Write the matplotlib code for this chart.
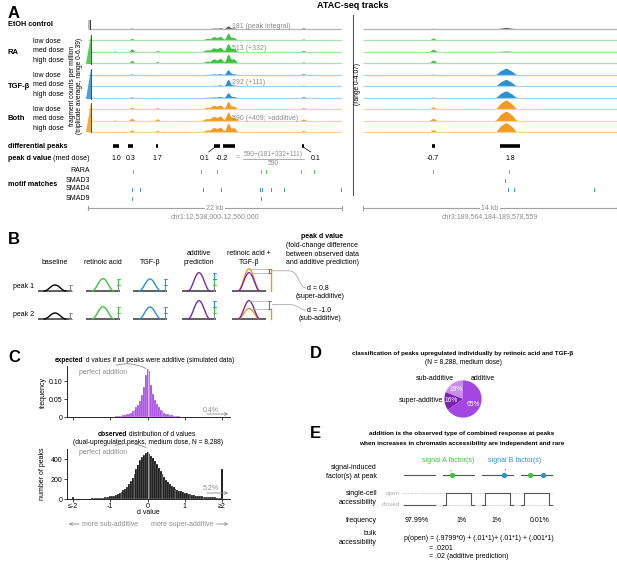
import numpy as np
import matplotlib
matplotlib.use('Agg')
import matplotlib.pyplot as plt
from matplotlib.patches import Polygon, Rectangle, PathPatch
from matplotlib.path import Path

plt.rcParams['font.family'] = ['Liberation Sans', 'DejaVu Sans']
plt.rcParams['axes.linewidth'] = 0.6

# ---------------- data ----------------
dose_labels = ['low dose', 'med dose', 'high dose']
group_labels = ['EtOH control', 'RA', 'TGF-β', 'Both']

# panel A, left locus (kb from chr1:12,538,000), CPM heights
left_peak_kb = [2.3, 3.8, 6.0, 10.3, 10.9, 11.45, 12.13, 12.6, 18.65]
left_peak_sd = [0.12, 0.14, 0.12, 0.25, 0.2, 0.2, 0.15, 0.2, 0.15]
etoh_left = [0.3, 0.6, 0.3, 0.3, 0.6, 0.8, 2.0, 0.7, 0.7]
ra_left = [[0.5, 1.4, 0.7, 1.3, 2.4, 2.6, 4.6, 2.0, 1.0],
           [0.6, 2.0, 1.0, 1.4, 2.6, 3.0, 5.3, 2.4, 1.0],
           [0.6, 2.0, 1.3, 1.5, 2.8, 3.2, 5.9, 3.0, 1.0]]
tgf_left = [[0.3, 0.6, 0.3, 0.4, 0.6, 0.8, 3.3, 0.8, 0.8],
            [0.3, 0.6, 0.3, 0.4, 0.7, 1.0, 4.6, 1.0, 0.8],
            [0.3, 0.6, 0.3, 0.4, 0.6, 0.9, 3.3, 0.9, 0.8]]
both_left = [[0.4, 1.4, 1.2, 1.3, 2.6, 2.8, 5.0, 2.2, 1.2],
             [0.5, 1.6, 1.3, 1.4, 2.8, 3.0, 5.5, 2.5, 1.2],
             [0.5, 1.6, 1.3, 1.5, 3.0, 3.3, 5.7, 3.0, 1.2]]
left_range = 6.39

# panel A, right locus (kb from chr3:189,564,184)
right_peak_kb = [3.97, 7.8, 8.1, 8.4]
right_peak_sd = [0.12, 0.15, 0.15, 0.15]
etoh_right = [0.3, 0.3, 0.6, 0.3]
ra_right = [[1.0, 0.2, 0.4, 0.2], [1.1, 0.2, 0.4, 0.2], [1.4, 0.2, 0.4, 0.2]]
tgf_right = [[0.3, 1.5, 2.4, 1.3], [0.3, 1.6, 2.5, 1.4], [0.3, 1.6, 2.5, 1.4]]
both_right = [[1.0, 2.2, 3.3, 2.0], [1.0, 2.3, 3.4, 2.1], [1.1, 2.3, 3.4, 2.1]]
right_range = 4.07

diff_left = [(2.17, 2.69), (3.46, 3.90), (5.90, 6.08), (10.91, 11.43), (11.69, 12.73), (18.55, 18.72)]
diff_right = [(3.88, 4.06), (7.77, 8.88)]
d_left = ['1.0', '0.3', '1.7', '0.1', '-0.2', '0.1']
d_right = ['-0.7', '1.8']

motif_names = ['RARA', 'SMAD3', 'SMAD4', 'SMAD9']
motif_left = [[3.90, 9.79, 11.17, 14.98, 15.42, 18.45, 19.58], [],
              [3.81, 4.50, 9.96, 11.52, 14.92, 15.06, 15.85, 16.98, 21.9], [3.81, 14.98]]
motif_right = [[3.97, 8.27], [8.05], [8.21, 8.54, 13.07], []]
integral_labels = ['181 (peak integral)', '513 (+332)', '292 (+111)', '590 (+409; ≈additive)']

# panel B (schematic signal heights)
b_columns = ['baseline', 'retinoic acid', 'TGF-β', 'additive\nprediction', 'retinoic acid +\nTGF-β']
b_rows = ['peak 1', 'peak 2']
b_base = [1.0, 1.0]
b_ra = [2.05, 2.05]
b_tgf = [2.0, 2.0]
b_add = [3.05, 3.05]
b_comb = [3.7, 1.75]
b_d = ['d = 0.8', 'd = -1.0']
b_type = ['(super-additive)', '(sub-additive)']

# panel C
sim_freq = [0.0008, 0.001, 0.0013, 0.0017, 0.0022, 0.0028, 0.0035, 0.0045, 0.006, 0.0075,
            0.0095, 0.012, 0.016, 0.021, 0.027, 0.035, 0.046, 0.062, 0.085, 0.118,
            0.135,
            0.128, 0.09, 0.064, 0.047, 0.036, 0.028, 0.021, 0.016, 0.012, 0.0095,
            0.0075, 0.006, 0.0045, 0.0035, 0.0028, 0.0022, 0.0017, 0.0013, 0.001, 0.0008]
obs_counts = [25,
              2, 2, 3, 3, 3, 4, 4, 5, 5, 6,
              7, 8, 9, 10, 12, 14, 16, 19, 22,
              26, 30, 35, 42, 50, 60, 72, 88, 105, 125,
              150, 180, 215, 255, 300, 345, 390, 420, 445, 465,
              470,
              455, 435, 410, 385, 350, 315, 280, 250, 220, 195,
              170, 150, 132, 118, 105, 94, 84, 76, 68, 62,
              56, 51, 46, 42, 38, 35, 32, 29, 27, 25,
              23, 21, 20, 18, 17, 16, 15, 14, 13,
              300]
c_xticklabels = ['≤-2', '-1', '0', '1', '≥2']

# panel D
pie_labels = ['sub-additive', 'super-additive', 'additive']
pie_values = [19, 16, 65]
pie_colors = ['#c98cf0', '#7a22b0', '#a446e2']

# panel E
e_signal_A = [0, 1, 0, 1]
e_signal_B = [0, 0, 1, 1]
e_open = [0, 1, 1, 1]
e_freq = ['97.99%', '1%', '1%', '0.01%']

# ---------------- figure ----------------
W, H = 617, 562
fig = plt.figure(figsize=(W / 100, H / 100), dpi=100)


def rect(l, t, r, b):
    return [l / W, 1 - b / H, (r - l) / W, (b - t) / H]


ov = fig.add_axes([0, 0, 1, 1], zorder=5)
ov.set_xlim(0, W)
ov.set_ylim(H, 0)
ov.axis('off')

GREY = '#8c8c8c'
GREEN = '#3cc43c'
BLUE = '#2b8fd6'
ORANGE = '#f29a1f'
PURPLE = '#7a2aa8'


def T(x, y, s, size=5, color='black', weight='normal', ha='left', va='center', **kw):
    return ov.text(x, y, s, fontsize=size, color=color, fontweight=weight, ha=ha, va=va, **kw)


# ---------------- panel A ----------------
T(8, 13, 'A', size=12, weight='bold')
T(353, 6, 'ATAC-seq tracks', size=6.5, weight='bold', ha='center')

cols_dark = ['#5a5a5a', GREEN, BLUE, ORANGE]
cols_line = ['#b5b5b5', '#a8e4a8', '#a9d1ee', '#f9d29c']
row_base = [29 + i * 11.48 for i in range(10)]


def track_axes(l, r, xmax):
    a = fig.add_axes(rect(l, 15, r, 222))
    a.set_xlim(0, xmax)
    a.set_ylim(222, 15)
    a.axis('off')
    return a


def draw_tracks(ax, xmax, peaks, sds, rows, vmax):
    x = np.linspace(0, xmax, 3000)
    scale = 9.7 / vmax
    for i, (vals, g) in enumerate(rows):
        prof = np.zeros_like(x)
        for c, s, h in zip(peaks, sds, vals):
            prof += h * np.exp(-0.5 * ((x - c) / s) ** 2)
        by = row_base[i]
        ax.plot([0, xmax], [by, by], color=cols_line[g], lw=0.9, solid_capstyle='butt')
        ax.fill_between(x, by, by - prof * scale, color=cols_dark[g], lw=0)


axL = track_axes(88, 342, 22.0)
axR = track_axes(363, 617, 14.375)
rowsL = [(etoh_left, 0)] + [(r, 1) for r in ra_left] + [(r, 2) for r in tgf_left] + [(r, 3) for r in both_left]
rowsR = [(etoh_right, 0)] + [(r, 1) for r in ra_right] + [(r, 2) for r in tgf_right] + [(r, 3) for r in both_right]
draw_tracks(axL, 22.0, left_peak_kb, left_peak_sd, rowsL, left_range)
draw_tracks(axR, 14.375, right_peak_kb, right_peak_sd, rowsR, right_range)

# differential peaks + d values
for ax, spans, labs, offs in [(axL, diff_left, d_left, [0, 0, 0, -1.1, -0.6, 1.1]),
                              (axR, diff_right, d_right, [0, 0])]:
    for (s, e), lab, off in zip(spans, labs, offs):
        ax.plot([s, e], [146, 146], color='black', lw=2.6, solid_capstyle='butt')
        ax.text((s + e) / 2 + off, 158, lab, fontsize=5, ha='center', va='center')
axL.plot([10.45, 10.95], [152, 147.5], color='black', lw=0.5)
axL.plot([18.7, 19.3], [147.5, 152], color='black', lw=0.5)

# fraction annotation
T(238, 157.5, '=', color=GREY, ha='center')
T(273, 155, '590−(181+332+111)', color=GREY, ha='center', size=4.8)
ov.plot([243, 304], [159, 159], color=GREY, lw=0.5)
T(273, 163.5, '590', color=GREY, ha='center', size=4.8)

# motif ticks
motif_y = [171, 180, 189, 198]
motif_col = ['#5cc85c', '#3d9bd6', '#3d9bd6', '#3d9bd6']
for ax, mot in [(axL, motif_left), (axR, motif_right)]:
    for y, pos, c in zip(motif_y, mot, motif_col):
        for p in pos:
            ax.plot([p, p], [y - 1.5, y + 1.5], color=c, lw=0.7)


def scalebar(ax, xmax, label, region):
    ax.plot([0, xmax], [208, 208], color='#a0a0a0', lw=0.8, clip_on=False)
    for xx in (0, xmax):
        ax.plot([xx, xx], [206, 210], color='#a0a0a0', lw=0.8, clip_on=False)
    ax.text(xmax / 2, 208, label, ha='center', va='center', fontsize=5, color=GREY,
            bbox=dict(fc='white', ec='none', pad=0.8))
    ax.text(xmax / 2, 216.5, region, ha='center', va='center', fontsize=5, color=GREY)


scalebar(axL, 22.0, '22 kb', 'chr1:12,538,000-12,560,000')
scalebar(axR, 14.375, '14 kb', 'chr3:189,564,184-189,578,559')

# labels
T(8, 24, group_labels[0], weight='bold', size=5.2)
for g, yc in zip(group_labels[1:], [52, 86, 119]):
    T(8, yc, g, weight='bold', size=5.5)
sub_y = [41.3, 51, 60.3, 75.7, 85, 94, 109.3, 118.7, 128]
for i, y in enumerate(sub_y):
    T(33, y, dose_labels[i % 3], size=5)
T(76, 86, 'fragment counts per million\n(triplicate average, range 0-6.39)', size=4.8,
  ha='center', rotation=90, linespacing=1.0)
T(357.5, 84, '(range 0-4.07)', size=4.8, ha='center', rotation=90)
ov.plot([353, 353], [15, 195], color='#555555', lw=0.8)

# scale wedges
ov.add_patch(Rectangle((87.5, 19.5), 2.5, 9.5, fc='#bbbbbb', ec='none'))
ov.plot([90, 90], [19.5, 29], color='#444444', lw=0.8)
for top, bot, c in [(35, 64, GREEN), (69, 98.7, BLUE), (103, 132.3, ORANGE)]:
    ov.add_patch(Polygon([(90.5, top), (90.5, bot), (86, bot)], closed=True, fc=c, ec='none', alpha=0.85))
    ov.plot([90.5, 90.5], [top, bot], color='#333333', lw=0.6)

for y, s in zip([26, 48, 83, 118], integral_labels):
    T(232, y, s, color=GREY, size=5)

T(8, 146, 'differential peaks', weight='bold', size=5.2)
tpk = T(8, 158, 'peak d value', weight='bold', size=5.2)
ov.annotate(' (med dose)', xy=(1, 0), xycoords=tpk, va='bottom', ha='left', fontsize=5.2)
T(8, 184, 'motif matches', weight='bold', size=5.2)
for y, m in zip(motif_y, motif_names):
    T(90, y, m, ha='right', size=5)

# ---------------- panel B ----------------
T(8, 240, 'B', size=12, weight='bold')
col_x = [55, 103, 150, 199, 249]
for x, lab in zip(col_x, b_columns):
    if '\n' in lab:
        T(x, 258, lab, ha='center', size=5, linespacing=1.3)
    else:
        T(x, 262, lab, ha='center', size=5)
T(322, 237, 'peak d value', weight='bold', size=5, ha='center')
T(322, 254, '(fold-change difference\nbetween observed data\nand additive prediction)', size=5,
  ha='center', linespacing=1.25)

PX = 6.0  # px per signal unit
u = np.linspace(-1, 1, 60)


def bell(cx, by, h, color, lw=1.0):
    ov.plot(cx + 11 * u, by - h * PX * (1 + np.cos(np.pi * u)) / 2, color=color, lw=lw,
            solid_capstyle='round')


def ibar(x, y0, y1, color, caps=True):
    ov.plot([x, x], [y0, y1], color=color, lw=0.8)
    if caps:
        ov.plot([x - 1.5, x + 1.5], [y0, y0], color=color, lw=0.6)
        ov.plot([x - 1.5, x + 1.5], [y1, y1], color=color, lw=0.6)


row_by = [291, 319]
for r, by in enumerate(row_by):
    T(13, by - 4, b_rows[r], size=5)
    base, ra, tgf, add, comb = b_base[r], b_ra[r], b_tgf[r], b_add[r], b_comb[r]
    for cx in col_x:
        ov.plot([cx - 17, cx + 17], [by, by], color='#444444', lw=1.2, solid_capstyle='butt', zorder=1)
    # baseline
    bell(col_x[0], by, base, 'black')
    ibar(col_x[0] + 15, by, by - base * PX, '#888888')
    # RA
    bell(col_x[1], by, ra, GREEN)
    ibar(col_x[1] + 15, by, by - base * PX, '#888888', caps=False)
    ibar(col_x[1] + 15, by - base * PX, by - ra * PX, GREEN)
    # TGF
    bell(col_x[2], by, tgf, BLUE)
    ibar(col_x[2] + 15, by, by - base * PX, '#888888', caps=False)
    ibar(col_x[2] + 15, by - base * PX, by - tgf * PX, BLUE)
    # additive
    bell(col_x[3], by, add, PURPLE)
    ibar(col_x[3] + 15, by, by - base * PX, '#888888', caps=False)
    ibar(col_x[3] + 15, by - base * PX, by - ra * PX, GREEN)
    ibar(col_x[3] + 15, by - ra * PX, by - (ra + tgf - base) * PX, BLUE)
    # combined
    cx = col_x[4]
    bell(cx, by, comb, ORANGE)
    bell(cx, by, add, PURPLE)
    ov.plot([cx + 22, cx + 22], [by, by - comb * PX], color=ORANGE, lw=1.0)
    for h in (add, comb):
        ov.plot([cx, cx + 20], [by - h * PX, by - h * PX], color='#aaaaaa', lw=0.5)
    ibar(cx + 20, by - add * PX, by - comb * PX, '#777777')
    ymid = by - (add + comb) / 2 * PX
    ty = [288, 310][r]
    verts = [(cx + 23, ymid), (cx + 40, ymid), (cx + 50, ymid), (cx + 50, ty), (cx + 57, ty)]
    codes = [Path.MOVETO, Path.LINETO, Path.CURVE4, Path.CURVE4, Path.CURVE4]
    ov.add_patch(PathPatch(Path(verts, codes), fc='none', ec='#aaaaaa', lw=0.6))
    T(cx + 58, ty, b_d[r], size=5, ha='left')
    T(320, ty + 8.5, b_type[r], size=5, ha='center')

# ---------------- panel C ----------------
T(8, 358, 'C', size=12, weight='bold')
t1 = T(55, 361, 'expected', weight='bold', size=4.8)
ov.annotate(' d values if all peaks were additive (simulated data)', xy=(1, 0), xycoords=t1,
            va='bottom', ha='left', fontsize=4.8)
t2 = T(98, 434, 'observed', weight='bold', size=4.8)
ov.annotate(' distribution of d values', xy=(1, 0), xycoords=t2, va='bottom', ha='left', fontsize=4.8)
T(148, 442.5, '(dual-upregulated peaks, medium dose, N = 8,288)', size=4.8, ha='center')

sim_centers = np.round(np.arange(-20, 21) * 0.05, 2)
obs_centers = np.round(np.arange(-40, 41) * 0.05, 2)

axc1 = fig.add_axes(rect(67, 366, 230, 417))
axc1.bar(sim_centers, sim_freq, width=0.05, color='#a23fe0', edgecolor='white', linewidth=0.2)
axc1.set_ylim(0, 0.143)
axc1.set_yticks([0, 0.05, 0.10])
axc1.set_yticklabels(['0', '0.05', '0.10'])

axc2 = fig.add_axes(rect(67, 449, 230, 499))
axc2.bar(obs_centers, obs_counts, width=0.05, color='black', edgecolor='white', linewidth=0.2)
axc2.set_ylim(0, 500)
axc2.set_yticks([0, 200, 400])

for a in (axc1, axc2):
    a.set_xlim(-2.16, 2.21)
    a.set_facecolor('none')
    for s in ('top', 'right'):
        a.spines[s].set_visible(False)
    a.set_xticks([-2, -1, 0, 1, 2])
    a.tick_params(labelsize=5, length=2, width=0.5, pad=1)
    a.axvline(0, color='white', lw=0.5, alpha=0.7)
axc1.set_xticklabels([])
axc2.set_xticklabels(c_xticklabels)

T(43, 392, 'frequency', size=5, ha='center', rotation=90)
T(43, 474, 'number of peaks', size=5, ha='center', rotation=90)
T(148, 513, 'd value', size=5, ha='center')

for ty, ay, lab in [(410, 414, '0.4%'), (489, 493, '5.2%')]:
    T(211, ty, lab, size=5, color=GREY, ha='center')
    ov.annotate('', xy=(231, ay), xytext=(204, ay),
                arrowprops=dict(arrowstyle='->', color=GREY, lw=0.6, mutation_scale=5))
for ty, tip in [(372, (146, 368.5)), (452.5, (146, 447.5))]:
    ov.annotate('perfect addition', xy=tip, xytext=(103, ty), fontsize=5, color=GREY,
                ha='center', va='center',
                arrowprops=dict(arrowstyle='-', color=GREY, lw=0.6, shrinkA=1, shrinkB=0,
                                connectionstyle='arc3,rad=-0.3'))
ov.annotate('', xy=(66, 524), xytext=(82, 524),
            arrowprops=dict(arrowstyle='->', color=GREY, lw=0.6, mutation_scale=5))
T(110.5, 524, 'more sub-additive', size=5, color=GREY, ha='center')
T(182, 524, 'more super-additive', size=5, color=GREY, ha='center')
ov.annotate('', xy=(231, 524), xytext=(214, 524),
            arrowprops=dict(arrowstyle='->', color=GREY, lw=0.6, mutation_scale=5))

# ---------------- panel D ----------------
T(310, 353, 'D', size=12, weight='bold')
T(463, 353, 'classification of peaks upregulated individually by retinoic acid and TGF-β',
  size=4.5, weight='bold', ha='center')
T(463, 362, '(N = 8,288, medium dose)', size=4.8, ha='center')
axd = fig.add_axes(rect(444, 380, 482, 418))
axd.pie(pie_values, colors=pie_colors, startangle=90, counterclock=True, radius=1.0,
        wedgeprops=dict(lw=0), autopct=lambda p: f'{p:.0f}%', pctdistance=0.62,
        textprops=dict(color='white', fontsize=4.8))
axd.set_aspect('equal')
axd.set_xlim(-1.02, 1.02)
axd.set_ylim(-1.02, 1.02)
T(435, 379, pie_labels[0], size=5, ha='center')
T(443, 400, pie_labels[1], size=5, ha='right')
T(483, 379, pie_labels[2], size=5, ha='center')

# ---------------- panel E ----------------
T(310, 433, 'E', size=12, weight='bold')
T(462, 434, 'addition is the observed type of combined response at peaks', size=4.6,
  weight='bold', ha='center')
T(462, 443, 'when increases in chromatin accessibility are independent and rare', size=4.6,
  weight='bold', ha='center')
T(377, 472, 'signal-induced\nfactor(s) at peak', size=5, ha='right', linespacing=1.25)
T(377, 498, 'single-cell\naccessibility', size=5, ha='right', linespacing=1.25)
T(377, 521, 'frequency', size=5, ha='right')
T(377, 538, 'bulk\naccessibility', size=5, ha='right', linespacing=1.25)

seg_x0 = [404, 443, 482, 521]
seg_w = 31
y_fac, y_open, y_closed = 475, 493, 505
ov.plot([402, 553], [y_open, y_open], color='#aaaaaa', lw=0.5, ls=(0, (1, 1)))
ov.plot([402, 553], [y_closed, y_closed], color='#aaaaaa', lw=0.5, ls=(0, (1, 1)))
T(400, y_open, 'open', size=4.6, color='#aaaaaa', ha='right')
T(400, y_closed, 'closed', size=4.6, color='#aaaaaa', ha='right')
for i, x0 in enumerate(seg_x0):
    ov.plot([x0, x0 + seg_w], [y_fac, y_fac], color='#555555', lw=0.8)
    if e_signal_A[i]:
        ov.plot(x0 + 8.5, y_fac, 'o', ms=3.8, color=GREEN, mec='none')
    if e_signal_B[i]:
        ov.plot(x0 + 22, y_fac, 'o', ms=3.8, color=BLUE, mec='none')
    if e_open[i]:
        ov.plot([x0, x0 + 3, x0 + 3, x0 + seg_w - 3, x0 + seg_w - 3, x0 + seg_w],
                [y_closed, y_closed, y_open, y_open, y_closed, y_closed], color='#555555', lw=0.8)
    else:
        ov.plot([x0, x0 + seg_w], [y_closed, y_closed], color='#555555', lw=0.8)
for x, f in zip([417, 462, 497, 540], e_freq):
    T(x, 521, f, size=5, ha='center')
ov.annotate('signal A factor(s)', xy=(451, 471), xytext=(448, 460), fontsize=5, color=GREEN,
            ha='center', va='center',
            arrowprops=dict(arrowstyle='-', color='#555555', lw=0.5, shrinkA=3, shrinkB=1))
ov.annotate('signal B factor(s)', xy=(504, 471), xytext=(515, 460), fontsize=5, color=BLUE,
            ha='center', va='center',
            arrowprops=dict(arrowstyle='-', color='#555555', lw=0.5, shrinkA=3, shrinkB=1))
T(404, 538, 'p(open) = (.9799*0) + (.01*1)+ (.01*1) + (.001*1)', size=5)
T(429, 548, '= .0201', size=5)
T(429, 557, '= .02 (additive prediction)', size=5)

fig.savefig('out.png', dpi=100)
